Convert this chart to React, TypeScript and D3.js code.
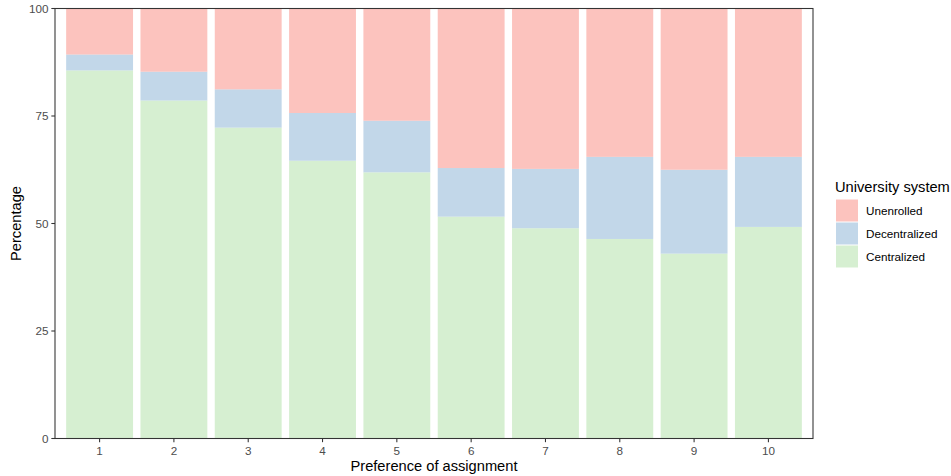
import React from "react";
import * as d3 from "d3";

const categories = ["1", "2", "3", "4", "5", "6", "7", "8", "9", "10"];
const centralized = [85.6, 78.6, 72.3, 64.6, 61.9, 51.6, 48.9, 46.4, 43.0, 49.2];
const decentralized = [3.7, 6.7, 8.9, 11.1, 12.0, 11.3, 13.8, 19.1, 19.5, 16.3];
const unenrolled = categories.map((_, i) => +(100 - centralized[i] - decentralized[i]).toFixed(1));
const yTicks = [0, 25, 50, 75, 100];
const seriesKeys = ["Centralized", "Decentralized", "Unenrolled"];
const legendOrder = ["Unenrolled", "Decentralized", "Centralized"];
const colors: Record<string, string> = {
  Unenrolled: "#FBB4AE",
  Decentralized: "#B3CDE3",
  Centralized: "#CCEBC5",
};

const W = 951;
const H = 476;
const panel = { left: 55, right: 813, top: 8.5, bottom: 438.5 };
const FONT = "'Liberation Sans', Arial, sans-serif";

export default function App() {
  const rows = categories.map((c, i) => ({
    cat: c,
    Centralized: centralized[i],
    Decentralized: decentralized[i],
    Unenrolled: unenrolled[i],
  }));
  const stack = d3.stack<any>().keys(seriesKeys);
  const layers = stack(rows);

  const x = d3
    .scaleBand<string>()
    .domain(categories)
    .range([panel.left, panel.right])
    .paddingInner(0.1)
    .paddingOuter(0.15);
  const y = d3.scaleLinear().domain([0, 100]).range([panel.bottom, panel.top]);

  const tickLen = 3.67;
  return (
    <svg
      width={W}
      height={H}
      style={{ position: "absolute", left: 0, top: 0, display: "block", background: "#fff" }}
      fontFamily={FONT}
    >
      <rect x={0} y={0} width={W} height={H} fill="#fff" />
      {layers.map((layer) => (
        <g key={layer.key}>
          {layer.map((d, i) => (
            <rect
              key={i}
              x={x(categories[i])}
              width={x.bandwidth()}
              y={y(d[1])}
              height={y(d[0]) - y(d[1])}
              fill={colors[layer.key]}
              fillOpacity={0.8}
            />
          ))}
        </g>
      ))}
      <rect
        x={panel.left}
        y={panel.top}
        width={panel.right - panel.left}
        height={panel.bottom - panel.top}
        fill="none"
        stroke="#333333"
        strokeWidth={1.07}
      />
      {yTicks.map((t) => (
        <g key={t}>
          <line
            x1={panel.left - tickLen}
            x2={panel.left}
            y1={y(t)}
            y2={y(t)}
            stroke="#333333"
            strokeWidth={1.07}
          />
          <text
            x={panel.left - tickLen - 2.9}
            y={y(t)}
            dy="0.35em"
            textAnchor="end"
            fontSize={11.7}
            fill="#4D4D4D"
          >
            {t}
          </text>
        </g>
      ))}
      {categories.map((c) => {
        const cx = (x(c) as number) + x.bandwidth() / 2;
        return (
          <g key={c}>
            <line
              x1={cx}
              x2={cx}
              y1={panel.bottom}
              y2={panel.bottom + tickLen}
              stroke="#333333"
              strokeWidth={1.07}
            />
            <text x={cx} y={455} textAnchor="middle" fontSize={11.7} fill="#4D4D4D">
              {c}
            </text>
          </g>
        );
      })}
      <text
        x={(panel.left + panel.right) / 2}
        y={471}
        textAnchor="middle"
        fontSize={14.67}
        fill="#000"
      >
        Preference of assignment
      </text>
      <text
        transform={`translate(21,${(panel.top + panel.bottom) / 2}) rotate(-90)`}
        textAnchor="middle"
        fontSize={14.67}
        fill="#000"
      >
        Percentage
      </text>
      <text x={835} y={192} fontSize={14.67} fill="#000">
        University system
      </text>
      {legendOrder.map((k, i) => (
        <g key={k}>
          <rect
            x={836}
            y={199.5 + i * 23}
            width={22}
            height={22}
            fill={colors[k]}
            fillOpacity={0.8}
          />
          <text x={866} y={199.5 + i * 23 + 11} dy="0.35em" fontSize={11.7} fill="#000">
            {k}
          </text>
        </g>
      ))}
    </svg>
  );
}
